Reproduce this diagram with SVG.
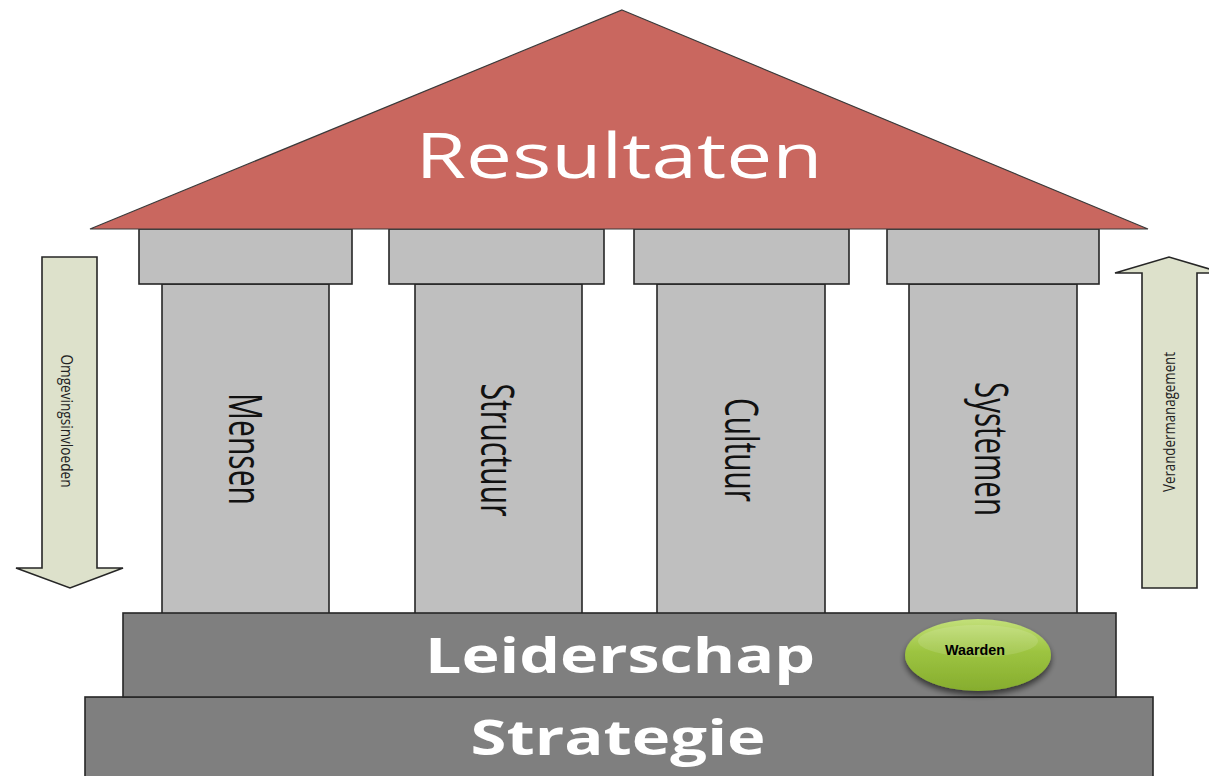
<svg xmlns="http://www.w3.org/2000/svg" width="1209" height="776" viewBox="0 0 1209 776">
<defs>
<style>
.roof{fill:#c9675f;stroke:#3a3a3a;stroke-width:1.2}
.col{fill:#bfbfbf;stroke:#262626;stroke-width:1.6}
.base{fill:#7f7f7f;stroke:#262626;stroke-width:1.6}
.arrow{fill:#dde1cb;stroke:#262626;stroke-width:1.6}
.pt{font-family:"Open Sans","DejaVu Sans",sans-serif;font-size:46px;fill:#111;text-anchor:middle}
.at{font-family:"Open Sans","DejaVu Sans",sans-serif;font-size:17px;fill:#222;text-anchor:middle}
.wt{font-family:"Open Sans","DejaVu Sans",sans-serif;fill:#fff;text-anchor:middle}
</style>
<linearGradient id="gr" x1="0" y1="0" x2="0" y2="1">
<stop offset="0" stop-color="#c3e07a"/>
<stop offset="0.45" stop-color="#9dc441"/>
<stop offset="1" stop-color="#86ad2e"/>
</linearGradient>
<filter id="sh" x="-20%" y="-20%" width="140%" height="150%">
<feGaussianBlur in="SourceAlpha" stdDeviation="3"/>
<feOffset dx="0" dy="4" result="b"/>
<feComponentTransfer><feFuncA type="linear" slope="0.6"/></feComponentTransfer>
<feMerge><feMergeNode/><feMergeNode in="SourceGraphic"/></feMerge>
</filter>
</defs>
<rect width="1209" height="776" fill="#fff"/>

<g id="strategie">
<rect class="base" x="85" y="697" width="1068" height="90"/>
<text class="wt" x="618" y="755" font-size="49" font-weight="bold" textLength="295" lengthAdjust="spacingAndGlyphs">Strategie</text>
</g>

<g id="pillar-mensen">
<rect class="col" x="162" y="284" width="167" height="330"/>
<rect class="col" x="139" y="229" width="213" height="55"/>
<text class="pt" transform="translate(229,449) rotate(90)" textLength="112" lengthAdjust="spacingAndGlyphs">Mensen</text>
</g>
<g id="pillar-structuur">
<rect class="col" x="415" y="284" width="167" height="330"/>
<rect class="col" x="389" y="229" width="215" height="55"/>
<text class="pt" transform="translate(481,450) rotate(90)" textLength="133" lengthAdjust="spacingAndGlyphs">Structuur</text>
</g>
<g id="pillar-cultuur">
<rect class="col" x="657" y="284" width="168" height="330"/>
<rect class="col" x="634" y="229" width="215" height="55"/>
<text class="pt" transform="translate(725,450) rotate(90)" textLength="104" lengthAdjust="spacingAndGlyphs">Cultuur</text>
</g>
<g id="pillar-systemen">
<rect class="col" x="909" y="284" width="168" height="330"/>
<rect class="col" x="887" y="229" width="212" height="55"/>
<text class="pt" transform="translate(975,449) rotate(90)" textLength="134" lengthAdjust="spacingAndGlyphs">Systemen</text>
</g>

<g id="roof">
<polygon class="roof" points="622,10 1148,229 90,229"/>
<text class="wt" x="619" y="178" font-size="62" textLength="407" lengthAdjust="spacingAndGlyphs">Resultaten</text>
</g>

<g id="leiderschap">
<rect class="base" x="123" y="613" width="993" height="84"/>
<text class="wt" x="620" y="673" font-size="49" font-weight="bold" textLength="390" lengthAdjust="spacingAndGlyphs">Leiderschap</text>
</g>

<g id="waarden">
<ellipse cx="978" cy="655" rx="73" ry="36" fill="url(#gr)" filter="url(#sh)"/>
<ellipse cx="978" cy="641" rx="60" ry="16" fill="#ffffff" opacity="0.12"/>
<text x="975" y="655" font-family="'Liberation Sans',Arial,sans-serif" font-size="15" font-weight="bold" fill="#000" text-anchor="middle" textLength="60" lengthAdjust="spacingAndGlyphs">Waarden</text>
</g>

<g id="arrow-omgeving">
<polygon class="arrow" points="42,257 97,257 97,568 123,568 70,588 16,568 42,568"/>
<text class="at" transform="translate(61,421) rotate(90)" textLength="133" lengthAdjust="spacingAndGlyphs">Omgevingsinvloeden</text>
</g>
<g id="arrow-verander">
<polygon class="arrow" points="1142,588 1197,588 1197,273 1223,273 1169,257 1115,273 1142,273"/>
<text class="at" transform="translate(1175,422) rotate(-90)" textLength="140" lengthAdjust="spacingAndGlyphs">Verandermanagement</text>
</g>
<g id="connectors"/>
</svg>
